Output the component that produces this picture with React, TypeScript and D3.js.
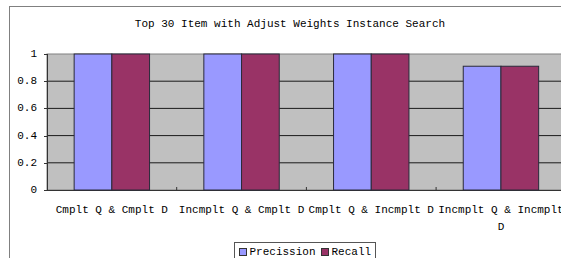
import React from "react";
import * as d3 from "d3";

const title = "Top 30 Item with Adjust Weights Instance Search";
const categories = ["Cmplt Q & Cmplt D", "Incmplt Q & Cmplt D", "Cmplt Q & Incmplt D", "Incmplt Q & Incmplt D"];
const seriesNames = ["Precission", "Recall"];
const precision = [1, 1, 1, 0.91];
const recall = [1, 1, 1, 0.91];
const yTicks = [0, 0.2, 0.4, 0.6, 0.8, 1];
const yTickLabels = ["0", "0.2", "0.4", "0.6", "0.8", "1"];
const colors = ["#9999FF", "#993366"];

const FONT = '"Liberation Mono", "DejaVu Serif", serif';
const CHAR_W = 6.6;

function wrap(label: string, maxW: number): string[] {
  const words = label.split(" ");
  const lines: string[] = [];
  let cur = "";
  for (const w of words) {
    const t = cur ? cur + " " + w : w;
    if (t.length * CHAR_W > maxW && cur) {
      lines.push(cur);
      cur = w;
    } else cur = t;
  }
  if (cur) lines.push(cur);
  return lines;
}

export default function App() {
  const W = 561, H = 258;
  const left = 47, plotTop = 54, plotBottom = 190;
  const bandW = 129.7;
  const x = d3.scaleBand<string>().domain(categories).range([left, left + bandW * categories.length]).padding(0);
  const xs = d3.scaleBand<string>().domain(seriesNames).range([0, x.bandwidth()]).paddingInner(0).paddingOuter(0.72);
  const y = d3.scaleLinear().domain([0, 1]).range([plotBottom, plotTop]);
  const values = [precision, recall];
  const right = left + bandW * categories.length;
  const ts = { fontFamily: FONT, fontSize: "11px" };

  return (
    <svg width={W} height={H} style={{ position: "absolute", left: 0, top: 0, background: "#fff" }}>
      <rect x={0} y={0} width={W} height={H} fill="#fff" />
      <rect x={9.5} y={6.5} width={W + 20} height={H + 20} fill="none" stroke="#808080" strokeWidth={1} />
      <text x={290} y={24} textAnchor="middle" dominantBaseline="central" style={ts} fill="#000">{title}</text>
      <rect x={left} y={plotTop} width={right - left} height={plotBottom - plotTop} fill="#C0C0C0" stroke="#808080" />
      {yTicks.map((t, i) => (
        <g key={i}>
          {t > 0 && t < 1 && <line x1={left} x2={right} y1={y(t)} y2={y(t)} stroke="#1a1a1a" />}
          <line x1={left - 3} x2={left} y1={Math.round(y(t)) + 0.5} y2={Math.round(y(t)) + 0.5} stroke="#333" />
          <text x={37} y={y(t)} textAnchor="end" dominantBaseline="central" style={ts} fill="#000">{yTickLabels[i]}</text>
        </g>
      ))}
      <line x1={left + 0.5} x2={left + 0.5} y1={plotTop} y2={plotBottom} stroke="#333" />
      <line x1={left} x2={right} y1={plotBottom + 0.5} y2={plotBottom + 0.5} stroke="#333" />
      {categories.map((c, ci) => (
        <g key={c}>
          {ci > 0 && <line x1={x(c)!} x2={x(c)!} y1={plotBottom - 3} y2={plotBottom} stroke="#333" />}
          {seriesNames.map((s, si) => (
            <rect key={s} x={x(c)! + xs(s)!} y={y(values[si][ci])} width={xs.bandwidth()} height={plotBottom - y(values[si][ci])}
              fill={colors[si]} stroke="#2a2a3a" strokeWidth={1} />
          ))}
          {wrap(c, x.bandwidth()).map((ln, li) => (
            <text key={li} x={x(c)! + x.bandwidth() / 2} y={210 + li * 16.7} textAnchor="middle" dominantBaseline="central" style={ts} fill="#000">{ln}</text>
          ))}
        </g>
      ))}
      <rect x={234.5} y={242.5} width={141} height={30} fill="#fff" stroke="#555" />
      {seriesNames.map((s, si) => {
        const ox = si === 0 ? 239.5 : 321.5;
        return (
          <g key={s}>
            <rect x={ox} y={248.5} width={7} height={7} fill={colors[si]} stroke="#333" />
            <text x={ox + 10} y={252} dominantBaseline="central" style={ts} fill="#000">{s}</text>
          </g>
        );
      })}
    </svg>
  );
}
